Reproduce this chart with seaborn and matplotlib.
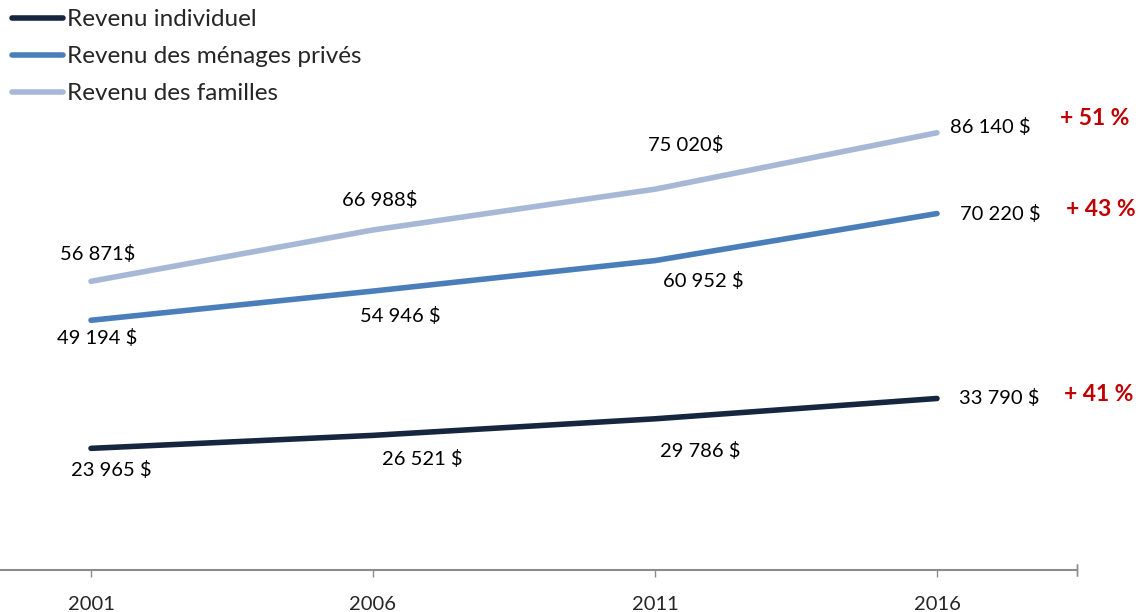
import matplotlib
matplotlib.use("Agg")
import matplotlib.pyplot as plt
import seaborn as sns
import pandas as pd
from matplotlib.lines import Line2D

years = [2001, 2006, 2011, 2016]
series_names = ["Revenu individuel", "Revenu des ménages privés", "Revenu des familles"]
individuel = [23965, 26521, 29786, 33790]
menages = [49194, 54946, 60952, 70220]
familles = [56871, 66988, 75020, 86140]
labels_ind = ["23 965 $", "26 521 $", "29 786 $", "33 790 $"]
labels_men = ["49 194 $", "54 946 $", "60 952 $", "70 220 $"]
labels_fam = ["56 871$", "66 988$", "75 020$", "86 140 $"]
growth = ["+ 41 %", "+ 43 %", "+ 51 %"]
colors = ["#17263f", "#4a7ebb", "#a6b8d6"]

sns.set_theme(style="white")
plt.rcParams['font.family'] = ['Lato', 'DejaVu Sans']

df = pd.DataFrame({
    "annee": years * 3,
    "valeur": individuel + menages + familles,
    "serie": [series_names[0]] * 4 + [series_names[1]] * 4 + [series_names[2]] * 4,
})

fig = plt.figure(figsize=(11.4, 6.12), dpi=100)
ax = fig.add_axes([0, 42 / 612, 1077 / 1140, 570 / 612])
sns.lineplot(data=df, x="annee", y="valeur", hue="serie", palette=colors,
             hue_order=series_names, linewidth=4, ax=ax, legend=False)
for l in ax.lines:
    l.set_solid_capstyle("round")

px = 5 / 282
ax.set_xlim(2001 - 91 * px, 2016 + 140 * px)
ax.set_ylim(0, 570 * 197)

fs = 14.5
# label offsets in pixels (dx, dy)
off_fam = [(7, 27), (7, 30), (31, 44), (53, 6)]
off_men = [(6, -18), (27, -25), (48, -20), (63, -0)]
off_ind = [(20, -22), (49, -24), (45, -32), (62, 0)]
for vals, labs, offs in [(familles, labels_fam, off_fam), (menages, labels_men, off_men), (individuel, labels_ind, off_ind)]:
    for x, v, t, o in zip(years, vals, labs, offs):
        ax.annotate(t, xy=(x, v), xytext=o, textcoords="offset pixels",
                    ha="center", va="center", fontsize=fs, color="black",
                    annotation_clip=False)

end_vals = [individuel[-1], menages[-1], familles[-1]]
g_off = [(162, 4), (164, 4), (158, 14)]
for v, t, o in zip(end_vals, growth, g_off):
    ax.annotate(t, xy=(2016, v), xytext=o, textcoords="offset pixels",
                ha="center", va="center", fontsize=16.5, fontweight="bold",
                color="#c00000", annotation_clip=False)

ax.set_xticks(years)
ax.set_xticklabels([str(y) for y in years], fontsize=fs)
ax.set_yticks([])
ax.set_xlabel("")
ax.set_ylabel("")
for s in ["top", "right", "left"]:
    ax.spines[s].set_visible(False)
ax.spines["bottom"].set_color("#8c8c8c")
ax.spines["bottom"].set_linewidth(1.5)
ax.tick_params(axis="x", direction="out", length=5, width=1, color="#8c8c8c", pad=14, bottom=True)
ax.plot([ax.get_xlim()[1]] * 2, [0, 0], marker=(2, 0, 0), markersize=8, color="#8c8c8c", clip_on=False)

handles = [Line2D([0], [0], color=c, lw=4, solid_capstyle="round") for c in colors]
leg = fig.legend(handles, series_names, loc="upper left", bbox_to_anchor=(0.004, 0.997),
                 frameon=False, fontsize=17.5, handlelength=2.1, handletextpad=0.15,
                 labelspacing=0.66, borderaxespad=0.0, borderpad=0.3)

fig.savefig("out.png", dpi=100)
